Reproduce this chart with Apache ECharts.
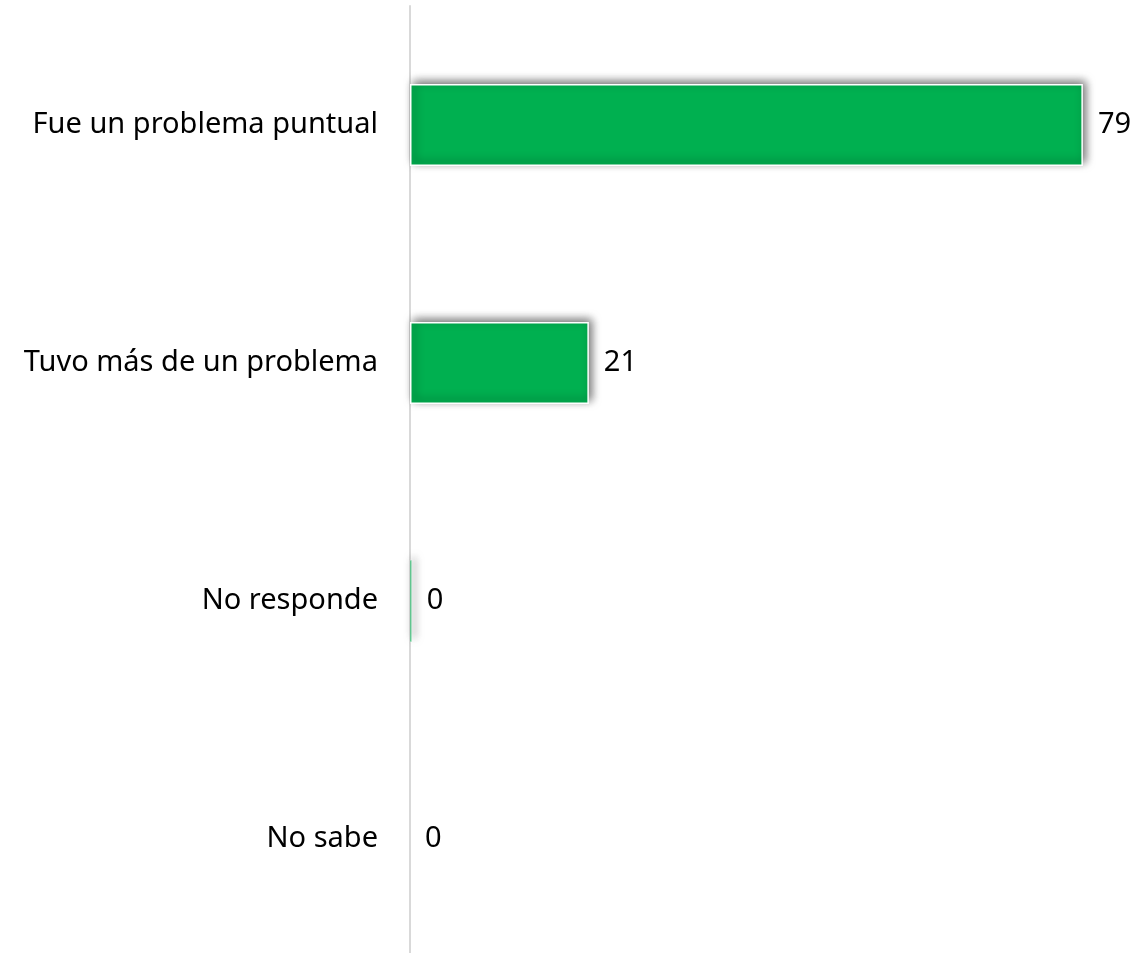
<!DOCTYPE html>
<html>
<head>
<meta charset="utf-8">
<script src="https://cdn.jsdelivr.net/npm/echarts@6/dist/echarts.min.js"></script>
<style>
  html, body { margin: 0; padding: 0; background: #fff; overflow: hidden; }
  #chart { width: 1134px; height: 958px; }
</style>
</head>
<body>
<div id="chart"></div>
<script>
// Answer categories, listed top to bottom
const categories = ['Fue un problema puntual', 'Tuvo más de un problema', 'No responde', 'No sabe'];
// Percentage of respondents per answer
const values = [79, 21, 0.2, 0];

const barStyle = {
  color: '#00B050',
  borderColor: '#ffffff',
  borderWidth: 1.5,
  shadowColor: 'rgba(0,0,0,0.6)',
  shadowBlur: 9,
  shadowOffsetX: 3,
  shadowOffsetY: -3
};

// Very small bars: thinner outline so the fill still shows; empty bars draw nothing
const seriesData = values.map(v => {
  if (v === 0) {
    return { value: v, itemStyle: { borderWidth: 0, shadowBlur: 0, shadowColor: 'transparent' } };
  }
  if (v < 1) {
    return { value: v, itemStyle: { borderWidth: 0.4 } };
  }
  return { value: v };
});

const chart = echarts.init(document.getElementById('chart'));

chart.setOption({
  animation: false,
  textStyle: { fontFamily: 'Noto Sans' },
  grid: { left: 410, right: 0, top: 6, bottom: 0, containLabel: false },
  xAxis: {
    type: 'value',
    min: 0,
    max: 85,
    show: false
  },
  yAxis: {
    type: 'category',
    data: categories,
    inverse: true,
    axisLine: { show: true, lineStyle: { color: '#d9d9d9', width: 2 } },
    axisTick: { show: false },
    axisLabel: {
      margin: 32,
      color: '#000',
      fontSize: 29,
      fontFamily: 'Noto Sans'
    }
  },
  series: [{
    type: 'bar',
    data: seriesData,
    barWidth: 82,
    itemStyle: barStyle,
    label: {
      show: true,
      position: 'right',
      distance: 15,
      color: '#000',
      fontSize: 29,
      fontFamily: 'Noto Sans',
      formatter: p => Math.round(p.value)
    }
  }]
});
</script>
</body>
</html>
